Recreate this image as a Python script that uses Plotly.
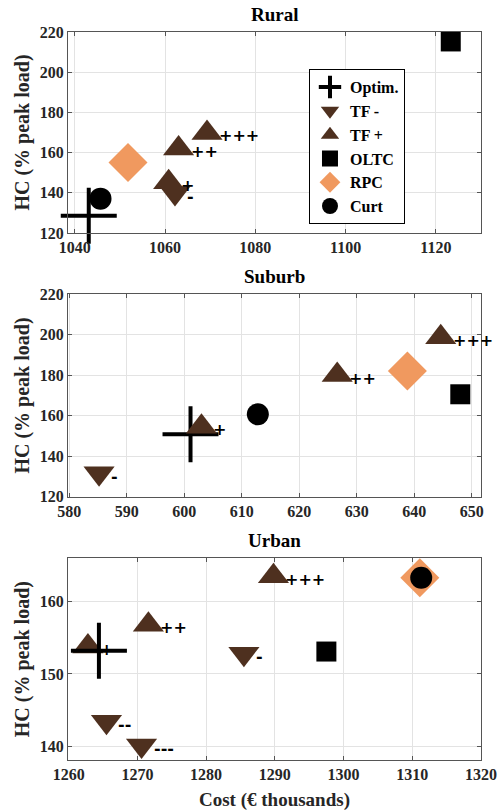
import plotly.graph_objects as go

SERIF = "Liberation Serif"
LABEL_FONT = "DejaVu Sans"
BROWN = "#4e301f"
ORANGE = "#f0995f"
TXT = "#262626"

panel_titles = ["Rural", "Suburb", "Urban"]

# ---------------- Rural ----------------
rural_optim_x = [1043.1]
rural_optim_y = [128.6]
rural_tfm_x = [1062.2]
rural_tfm_y = [139.9]
rural_tfm_lbl = ["-"]
rural_tfp_x = [1060.8, 1063.0, 1069.3]
rural_tfp_y = [145.2, 162.0, 169.8]
rural_tfp_lbl = ["+", "++", "+++"]
rural_oltc_x = [1123.3]
rural_oltc_y = [215.3]
rural_rpc_x = [1051.8]
rural_rpc_y = [155.1]
rural_curt_x = [1045.7]
rural_curt_y = [137.1]

# ---------------- Suburb ----------------
suburb_optim_x = [601.1]
suburb_optim_y = [150.8]
suburb_tfm_x = [585.2]
suburb_tfm_y = [131.6]
suburb_tfm_lbl = ["-"]
suburb_tfp_x = [603.0, 626.6, 644.6]
suburb_tfp_y = [154.6, 180.1, 198.8]
suburb_tfp_lbl = ["+", "++", "+++"]
suburb_oltc_x = [648.0]
suburb_oltc_y = [170.6]
suburb_rpc_x = [638.8]
suburb_rpc_y = [182.1]
suburb_curt_x = [612.8]
suburb_curt_y = [160.7]

# ---------------- Urban ----------------
urban_optim_x = [1264.4]
urban_optim_y = [153.2]
urban_tfm_x = [1285.5, 1265.5, 1270.6]
urban_tfm_y = [152.8, 143.4, 140.1]
urban_tfm_lbl = ["-", "--", "---"]
urban_tfp_x = [1262.8, 1271.6, 1289.8]
urban_tfp_y = [153.8, 156.8, 163.5]
urban_tfp_lbl = ["+", "++", "+++"]
urban_oltc_x = [1297.5]
urban_oltc_y = [153.1]
urban_rpc_x = [1311.1]
urban_rpc_y = [163.3]
urban_curt_x = [1311.3]
urban_curt_y = [163.3]

x_ranges = [[1038.5, 1130], [579.8, 651.6], [1259.9, 1320]]
y_ranges = [[120, 220], [120, 220], [138.1, 166]]
x_ticks = [[1040, 1060, 1080, 1100, 1120],
           [580, 590, 600, 610, 620, 630, 640, 650],
           [1260, 1270, 1280, 1290, 1300, 1310, 1320]]
y_ticks = [[120, 140, 160, 180, 200, 220],
           [120, 140, 160, 180, 200, 220],
           [140, 150, 160]]
y_domains = [[0.7239, 1.0], [0.3617, 0.6397], [0.0, 0.2771]]

y_title = "HC (% peak load)"
x_title = "Cost (€ thousands)"

panels = [
    dict(optim=(rural_optim_x, rural_optim_y), tfm=(rural_tfm_x, rural_tfm_y, rural_tfm_lbl),
         tfp=(rural_tfp_x, rural_tfp_y, rural_tfp_lbl), oltc=(rural_oltc_x, rural_oltc_y),
         rpc=(rural_rpc_x, rural_rpc_y), curt=(rural_curt_x, rural_curt_y), optim_on_top=False),
    dict(optim=(suburb_optim_x, suburb_optim_y), tfm=(suburb_tfm_x, suburb_tfm_y, suburb_tfm_lbl),
         tfp=(suburb_tfp_x, suburb_tfp_y, suburb_tfp_lbl), oltc=(suburb_oltc_x, suburb_oltc_y),
         rpc=(suburb_rpc_x, suburb_rpc_y), curt=(suburb_curt_x, suburb_curt_y), optim_on_top=False),
    dict(optim=(urban_optim_x, urban_optim_y), tfm=(urban_tfm_x, urban_tfm_y, urban_tfm_lbl),
         tfp=(urban_tfp_x, urban_tfp_y, urban_tfp_lbl), oltc=(urban_oltc_x, urban_oltc_y),
         rpc=(urban_rpc_x, urban_rpc_y), curt=(urban_curt_x, urban_curt_y), optim_on_top=True),
]

fig = go.Figure()
annotations = []
TRI = 27

for i, p in enumerate(panels):
    xa = "x" if i == 0 else f"x{i+1}"
    ya = "y" if i == 0 else f"y{i+1}"
    show = i == 0

    def optim_trace():
        return go.Scatter(x=p["optim"][0], y=p["optim"][1], mode="markers", name="Optim.",
                          legendrank=1, showlegend=show, xaxis=xa, yaxis=ya, cliponaxis=False,
                          marker=dict(symbol="cross-thin", size=40, color="black",
                                      line=dict(width=4, color="black")))

    traces = []
    if not p["optim_on_top"]:
        traces.append(optim_trace())
    traces.append(go.Scatter(x=p["tfm"][0], y=p["tfm"][1], mode="markers", name="TF -",
                             legendrank=2, showlegend=show, xaxis=xa, yaxis=ya, cliponaxis=False,
                             marker=dict(symbol="triangle-down", size=TRI, color=BROWN, line=dict(width=0))))
    traces.append(go.Scatter(x=p["tfp"][0], y=p["tfp"][1], mode="markers", name="TF +",
                             legendrank=3, showlegend=show, xaxis=xa, yaxis=ya, cliponaxis=False,
                             marker=dict(symbol="triangle-up", size=TRI, color=BROWN, line=dict(width=0))))
    if p["optim_on_top"]:
        traces.append(optim_trace())
    traces.append(go.Scatter(x=p["oltc"][0], y=p["oltc"][1], mode="markers", name="OLTC",
                             legendrank=4, showlegend=show, xaxis=xa, yaxis=ya, cliponaxis=False,
                             marker=dict(symbol="square", size=20, color="black", line=dict(width=0))))
    traces.append(go.Scatter(x=p["rpc"][0], y=p["rpc"][1], mode="markers", name="RPC",
                             legendrank=5, showlegend=show, xaxis=xa, yaxis=ya, cliponaxis=False,
                             marker=dict(symbol="diamond", size=30, color=ORANGE, line=dict(width=0))))
    traces.append(go.Scatter(x=p["curt"][0], y=p["curt"][1], mode="markers", name="Curt",
                             legendrank=6, showlegend=show, xaxis=xa, yaxis=ya, cliponaxis=False,
                             marker=dict(symbol="circle", size=22, color="black", line=dict(width=0))))
    for t in traces:
        fig.add_trace(t)

    for key in ("tfm", "tfp"):
        xs, ys, lbls = p[key]
        for x, y, l in zip(xs, ys, lbls):
            annotations.append(dict(x=x, y=y, xref=xa, yref=ya, text=l, showarrow=False,
                                    xanchor="left", yanchor="middle", xshift=10, yshift=-3,
                                    font=dict(family=LABEL_FONT, size=16, color="black", weight="bold")))

    # panel title
    annotations.append(dict(x=0.5, y=y_domains[i][1], xref="paper", yref="paper",
                            text=f"<b>{panel_titles[i]}</b>", showarrow=False,
                            xanchor="center", yanchor="bottom", yshift=5,
                            font=dict(family=SERIF, size=19, color="black")))

    axis_common = dict(showline=True, mirror="ticks", linecolor="#555555", linewidth=1,
                       ticks="inside", ticklen=4, tickcolor="#555555", automargin=False,
                       showgrid=True, gridcolor="#e3e3e3", gridwidth=1, zeroline=False,
                       tickfont=dict(family=SERIF, size=16, color=TXT, weight="bold"))
    xkey = "xaxis" if i == 0 else f"xaxis{i+1}"
    ykey = "yaxis" if i == 0 else f"yaxis{i+1}"
    xdict = dict(axis_common, range=x_ranges[i], tickvals=x_ticks[i], anchor=ya, domain=[0, 1])
    if i == 2:
        xdict["title"] = dict(text=f"<b>{x_title}</b>", font=dict(family=SERIF, size=19, color=TXT),
                              standoff=10)
    ydict = dict(axis_common, range=y_ranges[i], tickvals=y_ticks[i], anchor=xa, domain=y_domains[i],
                 title=dict(text=f"<b>{y_title}</b>", font=dict(family=SERIF, size=20, color=TXT),
                            standoff=4))
    fig.update_layout({xkey: xdict, ykey: ydict})

fig.update_layout(
    width=500, height=812,
    margin=dict(l=68, r=19, t=32, b=52),
    paper_bgcolor="white", plot_bgcolor="white",
    font=dict(family=SERIF, color=TXT),
    annotations=annotations,
    legend=dict(x=0.5835, y=0.949, xanchor="left", yanchor="top",
                bgcolor="white", bordercolor="black", borderwidth=1,
                font=dict(family=SERIF, size=16, color="black", weight="bold"),
                tracegroupgap=0),
    showlegend=True,
)

fig.write_html("out.html")
